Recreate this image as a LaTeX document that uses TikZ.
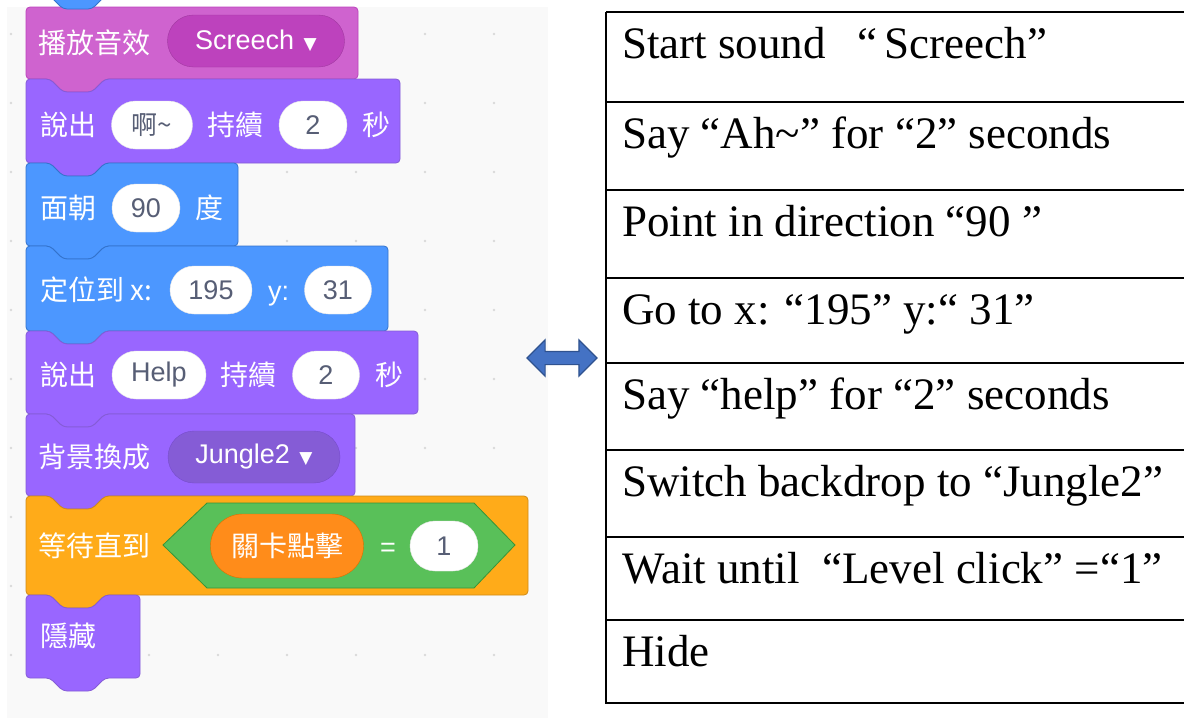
\documentclass[tikz,border=0pt]{standalone}
\usepackage{fontspec}
\setmainfont{Liberation Serif}
\setsansfont{Liberation Sans}
\newfontfamily\cjk{Noto Sans CJK TC}
\newfontfamily\symfont{DejaVu Sans}
\usetikzlibrary{shapes.arrows}

\definecolor{bgc}{HTML}{F9F9F9}
\definecolor{dotc}{HTML}{DADADA}
\definecolor{soundc}{HTML}{CF63CF}
\definecolor{soundd}{HTML}{BD42BD}
\definecolor{looksc}{HTML}{9966FF}
\definecolor{looksd}{HTML}{855CD6}
\definecolor{looksb}{HTML}{774DCB}
\definecolor{motionc}{HTML}{4C97FF}
\definecolor{motiond}{HTML}{3373CC}
\definecolor{ctrlc}{HTML}{FFAB19}
\definecolor{ctrld}{HTML}{CF8B17}
\definecolor{opc}{HTML}{59C059}
\definecolor{opd}{HTML}{389438}
\definecolor{varc}{HTML}{FF8C1A}
\definecolor{vard}{HTML}{DB6E00}
\definecolor{pilltxt}{HTML}{575E75}
\definecolor{arrowc}{HTML}{4472C4}
\definecolor{arrowd}{HTML}{2F528F}

% stack block: style, left, top, right, bottom
\newcommand\stackblock[5]{%
  \path[blk,#1] (#2,#5) -- (#2,#3) -- (#2+24,#3) -- (#2+37,#3+13) -- (#2+66,#3+13)
    -- (#2+79,#3) -- (#4,#3) -- (#4,#5) -- (#2+79,#5) -- (#2+66,#5+13)
    -- (#2+37,#5+13) -- (#2+24,#5) -- cycle;}

\tikzset{
  blk/.style={line width=0.8pt, rounded corners=4pt},
  sound/.style={fill=soundc, draw=soundd},
  looks/.style={fill=looksc, draw=looksd},
  motion/.style={fill=motionc, draw=motiond},
  ctrl/.style={fill=ctrlc, draw=ctrld},
  lbl/.style={anchor=west, inner sep=0pt, text=white, font=\cjk\fontsize{28}{28}\selectfont},
  lat/.style={anchor=base west, inner sep=0pt, text=white, font=\sffamily\fontsize{27}{27}\selectfont},
  pill/.style={fill=white, draw=black!10, rounded corners=24pt, minimum height=48pt,
    inner sep=0pt, text=pilltxt, font=\sffamily\fontsize{27}{27}\selectfont},
  menu/.style={rounded corners=26pt, minimum height=52pt, inner sep=0pt,
    text=white, font=\sffamily\fontsize{27}{27}\selectfont},
  dblarrow/.style={double arrow, fill=arrowc, draw=arrowd, line width=1.2pt,
    minimum height=70pt, inner sep=6pt, double arrow head extend=11.5pt},
  tbl/.style={line width=1.6pt},
  rowtxt/.style={anchor=base west, inner sep=0pt, font=\fontsize{45}{45}\selectfont}
}

\newcommand\drop{\hspace{0.35em}{\symfont\fontsize{17}{17}\selectfont ▼}}

\begin{document}
\begin{tikzpicture}[x=1pt,y=-1pt]
\useasboundingbox (0,0) rectangle (1184,720);

% script area
\fill[bgc] (7,7) rectangle (548,718);
\foreach \x in {11,80,...,494}
  \foreach \y in {34,103,...,655}
    \fill[dotc] (\x,\y) circle (1.3pt);

% blocks
\path[blk,sound] (26,79) -- (26,7) -- (358,7) -- (358,79) -- (105,79) -- (92,92)
  -- (63,92) -- (50,79) -- cycle;
\stackblock{motion}{26}{-100}{238}{-4}
\stackblock{looks}{26}{79}{400}{163}
\stackblock{motion}{26}{163}{238}{246}
\stackblock{motion}{26}{246}{388}{331}
\stackblock{looks}{26}{331}{418}{414}
\stackblock{looks}{26}{414}{355}{496}
\stackblock{ctrl}{26}{496}{528}{595}
\stackblock{looks}{26}{595}{140}{678}

% start sound
\node[lbl] (snd) at (38,43) {播放音效};
\node[menu, fill=soundd, draw=soundd!85!black, minimum width=177pt] (sndmenu) at (256,41) {Screech\drop};

% say 1
\node[lbl] (say1) at (40,125) {說出};
\node[pill, minimum width=81pt, font=\cjk\fontsize{26}{26}\selectfont] (say1txt) at (152,125) {啊\textasciitilde};
\node[lbl] (say1for) at (207,125) {持續};
\node[pill, minimum width=68pt] (say1sec) at (313,125) {2};
\node[lbl] (say1s) at (362,125) {秒};

% point in direction
\node[lbl] (dir) at (40,208) {面朝};
\node[pill, minimum width=68pt] (dirval) at (146,208) {90};
\node[lbl] (dirdeg) at (195,208) {度};

% go to
\node[lbl] (goto) at (40,290) {定位到 x:};
\node[pill, minimum width=82pt] (gotox) at (211,290) {195};
\node[lat] (gotoy) at (268,300) {y:};
\node[pill, minimum width=67pt] (gotoyval) at (338,290) {31};

% say 2
\node[lbl] (say2) at (40,375) {說出};
\node[pill, minimum width=94pt] (say2txt) at (159,375) {Help};
\node[lbl] (say2for) at (220,375) {持續};
\node[pill, minimum width=67pt] (say2sec) at (326,375) {2};
\node[lbl] (say2s) at (375,375) {秒};

% switch backdrop
\node[lbl] (bd) at (38,457) {背景換成};
\node[menu, fill=looksd, draw=looksb, minimum width=172pt] (bdmenu) at (254,457) {Jungle2\drop};

% wait until
\node[lbl] (wait) at (38,546) {等待直到};
\path[fill=opc, draw=opd, line width=0.8pt] (163,545) -- (207,503) -- (474,503)
  -- (515,545) -- (474,588) -- (207,588) -- cycle;
\node[menu, fill=varc, draw=vard, minimum width=153pt, minimum height=64pt,
  rounded corners=32pt, font=\cjk\fontsize{28}{28}\selectfont] (lvl) at (287,546) {關卡點擊};
\node[lat] (eq) at (380,556) {=};
\node[pill, minimum width=68pt, minimum height=50pt, rounded corners=25pt] (one) at (444,546) {1};

% hide
\node[lbl] (hide) at (40,636) {隱藏};

% link
\node[dblarrow] (link) at (562,358) {};

% table
\draw[tbl] (606,12) -- (606,703) -- (1184,703);
\foreach \t/\s [count=\i] in {
  12/{Start sound\hspace{0.7em}“\,Screech”},
  102/{Say “Ah\textasciitilde” for “2” seconds},
  190/{Point in direction “90 ”},
  278/{Go to x: “195” y:“ 31”},
  363/{Say “help” for “2” seconds},
  450/{Switch backdrop to “Jungle2”},
  537/{Wait until\ \ “Level click” =“1”},
  620/{Hide}} {
  \draw[tbl] (606,\t) -- (1184,\t);
  \node[rowtxt] (row\i) at (622,\t+46) {\s};
}
\end{tikzpicture}
\end{document}
